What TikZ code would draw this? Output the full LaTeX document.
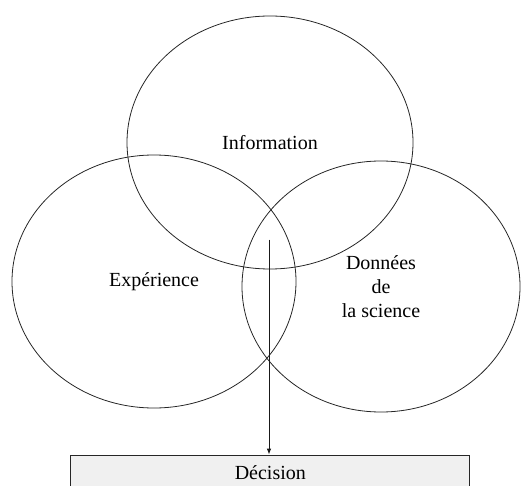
\documentclass[tikz,border=0pt]{standalone}
\usepackage{fontspec}
\setmainfont{Liberation Serif}
\usetikzlibrary{shapes.geometric,arrows.meta}
\begin{document}
\begin{tikzpicture}[x=1pt,y=-1pt,
  circ/.style={draw=black!85,line width=0.8pt,ellipse,inner sep=0pt,align=center,
    font=\fontsize{20}{24}\selectfont},
  decbox/.style={draw=black!85,line width=0.8pt,fill=black!6,rectangle,inner sep=0pt,
    minimum width=399pt,minimum height=36pt,font=\fontsize{20}{24}\selectfont},
  conn/.style={draw=black!90,line width=0.8pt,-{Latex[length=6pt,width=4.5pt]}}]
\useasboundingbox (0,0) rectangle (521,486);
\node[circ,minimum width=286pt,minimum height=253pt] (info) at (270,142.5) {Information};
\node[circ,minimum width=284pt,minimum height=253pt] (exp) at (154,281.5) {Expérience};
\node[circ,minimum width=278pt,minimum height=251pt] (sci) at (381,286.5) {Données\\de\\la science};
\node[decbox] (dec) at (270.3,473) {Décision};
\coordinate (s) at (269,239.5);
\draw[conn] (s) -- (s |- dec.north);
\end{tikzpicture}
\end{document}
